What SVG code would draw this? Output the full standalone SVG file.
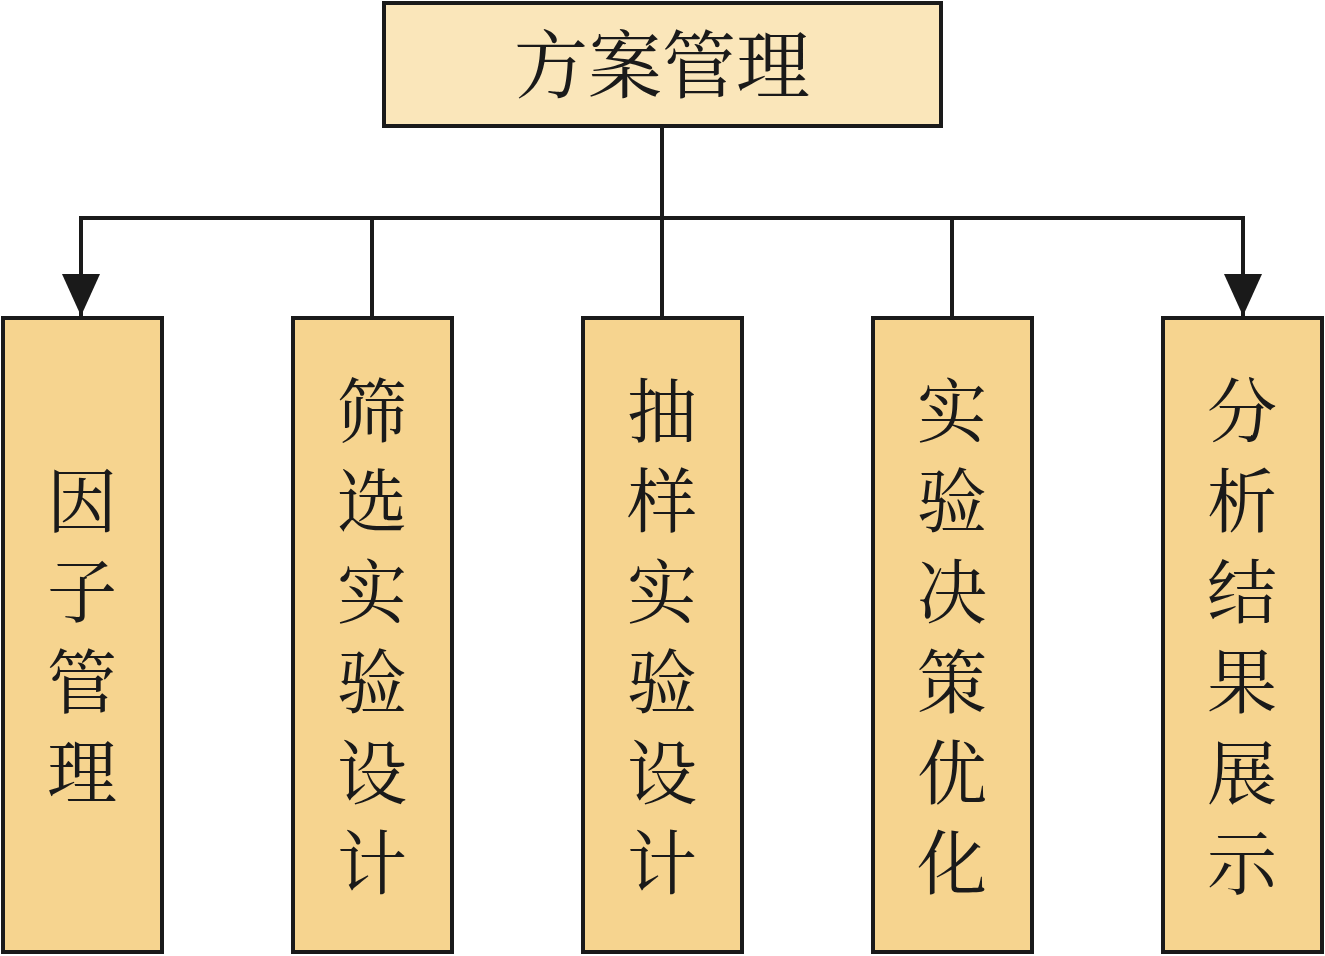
<svg xmlns="http://www.w3.org/2000/svg" width="1325" height="956" viewBox="0 0 1325 956">
<defs>
<style>
.top{fill:#FAE6BA;stroke:#1a1a1a;stroke-width:4}
.box{fill:#F6D48F;stroke:#1a1a1a;stroke-width:4}
.t{font-family:"Noto Serif CJK SC","Noto Sans CJK SC",serif;fill:#1a1a1a}
.big{font-size:74px;text-anchor:middle}
.col{font-size:70px;writing-mode:vertical-rl;text-orientation:upright;letter-spacing:20.5px}
.ln{fill:none;stroke:#1a1a1a;stroke-width:4}
</style>
<marker id="ah" markerUnits="userSpaceOnUse" markerWidth="44" markerHeight="38" refX="42" refY="19" orient="auto" viewBox="0 0 44 38">
<path d="M0,0 L42,19 L0,38 Z" fill="#1a1a1a"/>
</marker>
</defs>
<rect width="1325" height="956" fill="#ffffff"/>
<g id="connectors">
<path class="ln" d="M662,126 V318"/>
<path class="ln" d="M81,218 H1243"/>
<path class="ln" d="M81,216 V316" marker-end="url(#ah)"/>
<path class="ln" d="M372,218 V318"/>
<path class="ln" d="M952,218 V318"/>
<path class="ln" d="M1243,216 V316" marker-end="url(#ah)"/>
</g>
<g id="root">
<rect class="top" x="384" y="3" width="557" height="123"/>
<text class="t big" x="662" y="92">方案管理</text>
</g>
<g id="n1">
<rect class="box" x="3" y="318" width="159" height="634"/>
<text class="t col" x="82" y="465">因子管理</text>
</g>
<g id="n2">
<rect class="box" x="293" y="318" width="159" height="634"/>
<text class="t col" x="372" y="375">筛选实验设计</text>
</g>
<g id="n3">
<rect class="box" x="583" y="318" width="159" height="634"/>
<text class="t col" x="662" y="375">抽样实验设计</text>
</g>
<g id="n4">
<rect class="box" x="873" y="318" width="159" height="634"/>
<text class="t col" x="952" y="375">实验决策优化</text>
</g>
<g id="n5">
<rect class="box" x="1163" y="318" width="159" height="634"/>
<text class="t col" x="1242" y="375">分析结果展示</text>
</g>
</svg>
